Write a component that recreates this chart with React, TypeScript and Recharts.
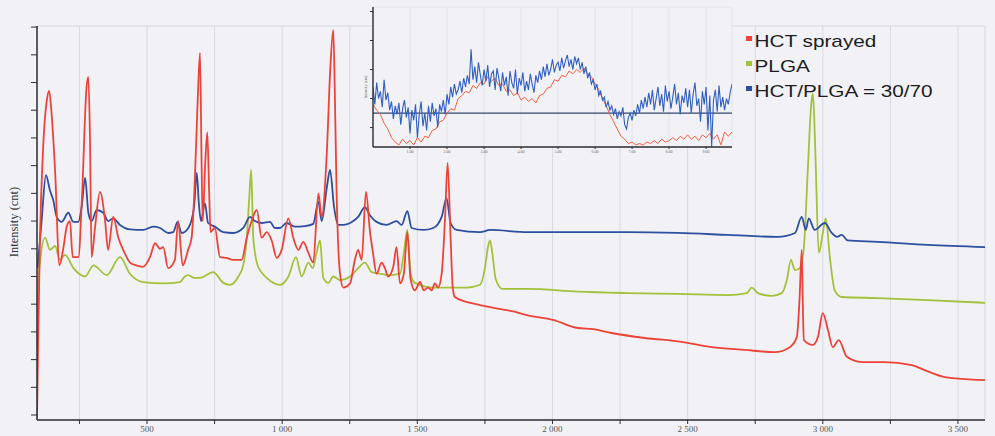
import React from 'react';
import { LineChart, Line, XAxis, YAxis, CartesianGrid, Legend, ReferenceLine } from 'recharts';

const BG = '#f2f2f6';
const GRID = '#cfd2de';
const FRAME = '#2e2e33';

const COLORS = {
  hct: '#ec4338', // red
  plga: '#a3c13b', // yellow-green
  mix: '#2d4f9f', // blue
};

// --- main spectra: [wavenumber, intensity] ---
const hctSprayed: [number, number][] = [
  [93, -0.1], [97, 2.5], [104, 6.4], [115, 9.5], [130, 11.4], [138, 11.7], [146, 11.0], [160, 8.8],
  [176, 5.4], [190, 6.0], [203, 6.8], [215, 7.0], [225, 5.7], [246, 5.7], [260, 8.0], [276, 11.8],
  [283, 12.2], [289, 10.0], [295, 5.7], [308, 6.8], [326, 8.05], [345, 7.0], [356, 5.96], [375, 7.15],
  [394, 6.4], [415, 5.9], [437, 5.5], [460, 5.4], [485, 5.35], [511, 5.7], [530, 6.2], [548, 6.0],
  [560, 6.06], [578, 5.3], [603, 5.6], [615, 7.0], [632, 5.4], [652, 5.96], [665, 6.4], [675, 8.0],
  [688, 11.5], [696, 13.07], [702, 9.0], [706, 7.0], [715, 9.0], [723, 10.2], [730, 8.0], [735, 6.6],
  [751, 6.75], [770, 5.7], [794, 5.67], [819, 5.6], [850, 5.6], [869, 6.4], [887, 7.0], [906, 7.4],
  [924, 6.4], [943, 6.6], [961, 6.3], [980, 5.67], [998, 5.96], [1023, 7.1], [1041, 6.4], [1060, 5.96],
  [1078, 6.25], [1097, 5.85], [1115, 5.5], [1134, 8.0], [1146, 7.15], [1165, 9.45], [1178, 12.5],
  [1189, 13.9], [1195, 11.5], [1201, 8.2], [1214, 5.1], [1226, 4.6], [1251, 4.75], [1269, 5.6],
  [1281, 5.96], [1294, 5.6], [1310, 8.05], [1325, 6.6], [1336, 5.85], [1349, 5.1], [1368, 5.5],
  [1380, 5.3], [1392, 5.0], [1411, 5.35], [1423, 6.06], [1436, 4.75], [1450, 5.1], [1463, 6.6],
  [1475, 4.9], [1491, 4.5], [1510, 4.8], [1524, 4.5], [1540, 4.6], [1553, 4.5], [1565, 4.75],
  [1577, 4.6], [1590, 5.1], [1602, 7.0], [1612, 9.1], [1623, 6.4], [1631, 4.6], [1639, 4.26],
  [1682, 4.08], [1732, 3.97], [1787, 3.86], [1850, 3.75], [1909, 3.6], [2002, 3.43], [2094, 3.14],
  [2150, 3.1], [2219, 2.96], [2342, 2.78], [2478, 2.64], [2589, 2.45], [2711, 2.35], [2822, 2.27],
  [2878, 2.45], [2904, 2.82], [2914, 4.2], [2922, 5.96], [2926, 4.0], [2930, 2.7], [2963, 2.53],
  [2982, 2.82], [3000, 3.68], [3019, 3.07], [3037, 2.45], [3059, 2.7], [3089, 2.1], [3144, 1.91],
  [3229, 1.91], [3329, 1.8], [3377, 1.62], [3451, 1.37], [3600, 1.26],
];

const plga: [number, number][] = [
  [93, 2.0], [96, 4.5], [105, 5.6], [123, 6.4], [141, 5.96], [160, 6.1], [178, 5.6], [197, 5.78],
  [228, 5.3], [271, 5.0], [302, 5.4], [351, 5.05], [400, 5.7], [437, 5.1], [486, 4.8], [560, 4.75],
  [622, 4.8], [640, 5.0], [653, 5.05], [675, 4.95], [696, 4.95], [745, 5.16], [782, 4.77], [807, 4.7],
  [838, 5.0], [856, 5.4], [869, 6.4], [878, 7.8], [885, 8.85], [889, 7.8], [893, 6.4], [911, 5.35],
  [943, 4.95], [992, 4.7], [1023, 5.0], [1051, 5.7], [1072, 5.0], [1097, 5.5], [1113, 5.3],
  [1127, 5.85], [1140, 6.3], [1152, 4.95], [1171, 4.77], [1189, 5.0], [1214, 4.87], [1251, 5.0],
  [1281, 5.3], [1306, 5.5], [1331, 5.16], [1362, 5.1], [1399, 5.05], [1436, 5.1], [1450, 5.85],
  [1463, 6.68], [1475, 5.1], [1491, 4.77], [1559, 4.6], [1682, 4.6], [1732, 4.7], [1750, 5.3],
  [1762, 6.1], [1769, 6.3], [1778, 5.8], [1790, 4.9], [1815, 4.55], [1909, 4.55], [2094, 4.45],
  [2279, 4.4], [2464, 4.37], [2649, 4.33], [2719, 4.4], [2737, 4.6], [2760, 4.4], [2811, 4.3],
  [2848, 4.4], [2867, 4.87], [2882, 5.6], [2897, 5.23], [2915, 5.3], [2930, 6.06], [2945, 8.95],
  [2957, 11.2], [2963, 11.6], [2968, 10.8], [2974, 8.95], [2985, 5.85], [3000, 6.57], [3011, 7.1],
  [3026, 5.7], [3044, 4.5], [3070, 4.26], [3203, 4.22], [3388, 4.15], [3600, 4.05],
];

const hctPlga: [number, number][] = [
  [95, 5.3], [110, 7.0], [126, 8.66], [141, 8.1], [153, 7.76], [166, 7.15], [184, 6.97], [209, 7.3],
  [227, 6.97], [246, 6.97], [258, 7.5], [271, 8.56], [283, 7.3], [295, 7.0], [314, 7.4], [338, 7.3],
  [357, 7.0], [375, 7.1], [400, 6.86], [437, 6.7], [486, 6.68], [523, 6.8], [548, 6.75], [579, 6.57],
  [597, 6.6], [613, 6.97], [628, 6.57], [653, 6.75], [674, 7.5], [684, 8.74], [692, 7.6], [700, 7.0],
  [714, 7.65], [726, 6.93], [751, 6.8], [782, 6.6], [819, 6.57], [856, 6.75], [881, 7.15], [899, 7.0],
  [924, 6.93], [955, 6.97], [973, 6.75], [992, 6.75], [1016, 6.93], [1047, 6.8], [1084, 6.82],
  [1115, 6.9], [1134, 7.7], [1146, 7.0], [1165, 8.2], [1177, 8.85], [1192, 7.5], [1207, 6.86],
  [1226, 6.86], [1263, 7.0], [1281, 7.15], [1306, 7.5], [1325, 7.2], [1349, 6.97], [1386, 6.86],
  [1423, 7.0], [1442, 6.86], [1463, 7.36], [1479, 6.75], [1522, 6.68], [1559, 6.75], [1590, 7.15],
  [1608, 7.83], [1623, 6.93], [1645, 6.68], [1732, 6.6], [1769, 6.68], [1909, 6.6], [2094, 6.6],
  [2279, 6.6], [2464, 6.57], [2649, 6.5], [2833, 6.43], [2897, 6.57], [2922, 7.15], [2937, 6.68],
  [2948, 7.1], [2970, 6.68], [3007, 6.93], [3033, 6.57], [3052, 6.43], [3070, 6.5], [3092, 6.3],
  [3203, 6.25], [3388, 6.14], [3600, 6.06],
];

const xTicks = [250, 500, 750, 1000, 1250, 1500, 1750, 2000, 2250, 2500, 2750, 3000, 3250, 3500];
const yTicks = Array.from({ length: 29 }, (_, i) => i * 0.5);
const yGridTicks = Array.from({ length: 15 }, (_, i) => i);

const legendNames = ['HCT sprayed', 'PLGA', 'HCT/PLGA = 30/70'];
const legendColors = [COLORS.hct, COLORS.plga, COLORS.mix];

// --- inset (zoomed noisy region) ---
// red sampled every 1 unit, blue every 0.5 unit along the inset axis
const insetRed = [
  2.6, 2.2, 1.9, 1.3, 0.9, 0.3, 0.0, -0.2, 0.2, -0.1, 0.1, -0.2, 0.3, 0.0, 0.4, 0.3, 0.8, 0.9, 1.4, 1.5,
  2.0, 2.3, 2.2, 3.0, 3.2, 3.5, 3.4, 3.9, 3.7, 4.1, 4.0, 4.5, 4.2, 4.4, 3.9, 4.0, 3.5, 3.6, 3.2, 3.4,
  2.9, 3.1, 2.8, 3.0, 2.7, 3.2, 3.3, 3.7, 3.8, 4.3, 4.2, 4.6, 4.5, 4.9, 4.7, 5.0, 4.8, 5.1, 4.7, 4.5,
  4.0, 3.6, 3.0, 2.5, 1.9, 1.4, 0.9, 0.4, 0.2, -0.1, 0.0, -0.2, -0.1, -0.2, 0.0, -0.1, 0.1, -0.1, 0.2, 0.0,
  0.1, 0.3, 0.1, 0.4, 0.2, 0.5, 0.2, 0.4, 0.1, 0.5, 0.3, 0.6, 0.2, 0.5, -0.2, 0.7, 0.4, 0.7,
];
const insetBlue = [
  3.8, 2.6, 4.1, 3.0, 3.5, 2.4, 4.3, 2.9, 3.4, 2.2,
  2.8, 1.6, 2.5, 1.9, 2.7, 1.2, 2.3, 2.9, 1.7, 2.4,
  0.6, 2.2, 1.5, 2.6, 0.3, 1.9, 2.8, 1.1, 2.0, 0.8,
  2.5, 1.4, 2.7, 1.8, 2.3, 1.0, 2.6, 2.1, 2.9, 1.9,
  3.3, 2.6, 3.8, 3.1, 4.0, 3.3, 3.6, 4.2, 3.4, 4.4,
  3.8, 4.6, 4.0, 6.4, 4.3, 5.2, 4.1, 5.5, 4.6, 3.9,
  5.0, 4.2, 5.3, 3.8, 4.7, 4.9, 3.6, 5.1, 4.4, 3.5,
  4.8, 3.9, 4.5, 3.2, 4.9, 4.1, 3.7, 5.0, 3.3, 4.4,
  3.9, 4.8, 3.5, 4.2, 3.6, 4.7, 4.0, 3.4, 4.6, 4.1,
  4.9, 4.3, 5.2, 4.5, 5.4, 4.6, 5.0, 5.7, 4.8, 5.3,
  5.5, 4.9, 5.8, 5.1, 5.6, 6.0, 5.2, 5.7, 5.0, 5.9,
  5.4, 5.8, 5.0, 5.5, 4.7, 5.2, 4.4, 4.8, 4.0, 4.3,
  3.6, 4.0, 3.2, 3.5, 2.9, 3.1, 2.4, 2.8, 2.2, 2.5,
  1.9, 2.3, 1.6, 2.1, 1.8, 2.4, 1.2, 0.9, 1.7, 2.0,
  1.5, 2.2, 1.8, 2.6, 2.0, 2.9, 2.3, 3.1, 2.4, 3.4,
  2.6, 3.6, 2.2, 3.0, 3.8, 2.5, 3.3, 2.1, 3.9, 2.8,
  3.5, 2.3, 3.1, 4.0, 2.6, 3.4, 1.9, 3.2, 2.7, 3.7,
  2.4, 3.6, 2.0, 3.3, 4.1, 2.5, 3.0, 1.4, 3.5, 2.6,
  3.8, 0.8, 3.2, -0.3, 2.9, 3.6, 2.1, 3.9, 2.4, 3.1,
  2.2, 3.0, 2.6, 3.4, 4.0,
];
const insetXTicks = [10, 20, 30, 40, 50, 60, 70, 80, 90];
const insetYTicks = Array.from({ length: 19 }, (_, i) => i * 0.5);
const insetGridTicks = Array.from({ length: 10 }, (_, i) => i);

const toPoints = (pairs: [number, number][]) => pairs.map(([w, v]) => ({ w, v }));
const hctData = toPoints(hctSprayed);
const plgaData = toPoints(plga);
const mixData = toPoints(hctPlga);
const insetRedData = insetRed.map((v, i) => ({ u: i, v }));
const insetBlueData = insetBlue.map((v, i) => ({ u: i * 0.5, v }));

const fmtWave = (v: number) => {
  if (v % 500 !== 0) return '';
  if (v < 1000) return String(v);
  return `${Math.floor(v / 1000)} ${String(v % 1000).padStart(3, '0')}`;
};

const EmptyTick = () => <g />;

const renderLegend = () => (
  <div
    style={{
      fontFamily: '"Liberation Sans", Arial, sans-serif',
      fontSize: 17,
      lineHeight: '25px',
      color: '#1c1c22',
      transform: 'scaleX(1.22)',
      transformOrigin: 'left top',
      whiteSpace: 'nowrap',
    }}
  >
    {legendNames.map((name, i) => (
      <div key={name} style={{ display: 'flex', alignItems: 'center' }}>
        <span style={{ width: 5, height: 5, background: legendColors[i], marginRight: 2, marginTop: -6 }} />
        {name}
      </div>
    ))}
  </div>
);

const MainChart = () => (
  <LineChart width={995} height={436} margin={{ top: 26, right: 10, bottom: 0, left: 0 }}>
    <CartesianGrid stroke={GRID} strokeWidth={0.8} yAxisId="frame" />
    <XAxis
      type="number"
      dataKey="w"
      domain={[93, 3600]}
      allowDataOverflow
      ticks={xTicks}
      tickFormatter={fmtWave}
      height={16}
      tickSize={4}
      tickMargin={2}
      tick={{ fontSize: 9, fill: '#555', fontFamily: '"Liberation Serif", serif' }}
      axisLine={{ stroke: FRAME, strokeWidth: 1.5 }}
      tickLine={{ stroke: FRAME }}
    />
    <XAxis
      xAxisId="top"
      orientation="top"
      type="number"
      domain={[93, 3600]}
      height={0}
      tick={false}
      tickLine={false}
      axisLine={{ stroke: FRAME, strokeWidth: 1.5 }}
    />
    <YAxis
      type="number"
      domain={[-0.18, 14.04]}
      allowDataOverflow
      ticks={yTicks}
      width={37}
      tickSize={6}
      tick={EmptyTick}
      axisLine={{ stroke: FRAME, strokeWidth: 1.5 }}
      tickLine={{ stroke: FRAME }}
      label={{
        content: () => (
          <text
            x={15}
            y={222}
            transform="rotate(-90 15 222)"
            textAnchor="middle"
            dominantBaseline="middle"
            fontSize={12.5}
            fontFamily='"Liberation Serif", serif'
            fill="#333"
          >
            Intensity (cnt)
          </text>
        ),
      }}
    />
    <YAxis
      yAxisId="frame"
      orientation="right"
      type="number"
      domain={[-0.18, 14.04]}
      ticks={yGridTicks}
      width={0}
      tick={false}
      tickLine={false}
      axisLine={{ stroke: FRAME, strokeWidth: 1.2 }}
    />
    <Legend
      layout="horizontal"
      verticalAlign="middle"
      content={renderLegend}
      wrapperStyle={{ left: 746, top: 29, width: 240, height: 80 }}
    />
    <Line data={plgaData} dataKey="v" name="PLGA" type="monotone" stroke={COLORS.plga} strokeWidth={1.8} dot={false} isAnimationActive={false} />
    <Line data={mixData} dataKey="v" name="HCT/PLGA = 30/70" type="monotone" stroke={COLORS.mix} strokeWidth={1.8} dot={false} isAnimationActive={false} />
    <Line data={hctData} dataKey="v" name="HCT sprayed" type="monotone" stroke={COLORS.hct} strokeWidth={1.8} dot={false} isAnimationActive={false} />
  </LineChart>
);

const InsetChart = () => (
  <LineChart width={372} height={158} margin={{ top: 7, right: 2, bottom: 0, left: 0 }}>
    <CartesianGrid stroke="#d6d9e3" strokeWidth={0.6} yAxisId="frame" />
    <XAxis
      type="number"
      dataKey="u"
      domain={[0, 97]}
      allowDataOverflow
      ticks={insetXTicks}
      tickFormatter={(u: number) => (u / 10).toFixed(2)}
      height={11}
      tickSize={2}
      tickMargin={1}
      tick={{ fontSize: 4, fill: '#666' }}
      axisLine={{ stroke: FRAME, strokeWidth: 1.4 }}
      tickLine={{ stroke: FRAME }}
    />
    <XAxis
      xAxisId="top"
      orientation="top"
      type="number"
      domain={[0, 97]}
      height={0}
      tick={false}
      tickLine={false}
      axisLine={{ stroke: FRAME, strokeWidth: 1.4 }}
    />
    <YAxis
      type="number"
      domain={[-0.34, 9.31]}
      allowDataOverflow
      ticks={insetYTicks}
      width={11}
      tickSize={3}
      tick={EmptyTick}
      axisLine={{ stroke: FRAME, strokeWidth: 1.4 }}
      tickLine={{ stroke: FRAME }}
      label={{
        content: () => (
          <text x={5} y={87} transform="rotate(-90 5 87)" textAnchor="middle" fontSize={4} fill="#555">
            Intensity (cnt)
          </text>
        ),
      }}
    />
    <YAxis
      yAxisId="frame"
      orientation="right"
      type="number"
      domain={[-0.34, 9.31]}
      ticks={insetGridTicks}
      width={0}
      tick={false}
      tickLine={false}
      axisLine={{ stroke: FRAME, strokeWidth: 1.4 }}
    />
    <ReferenceLine y={2} stroke="#34466a" strokeWidth={1.2} />
    <Line data={insetRedData} dataKey="v" stroke="#f2603f" strokeWidth={1} dot={false} isAnimationActive={false} />
    <Line data={insetBlueData} dataKey="v" stroke="#2f5fbf" strokeWidth={1.1} dot={false} isAnimationActive={false} />
  </LineChart>
);

export default function App() {
  return (
    <div style={{ position: 'absolute', left: 0, top: 0, width: 995, height: 436, background: BG, overflow: 'hidden' }}>
      <div style={{ position: 'absolute', left: 0, top: 0 }}>
        <MainChart />
      </div>
      <div style={{ position: 'absolute', left: 373, top: 7, width: 359, height: 140, background: BG }} />
      <div style={{ position: 'absolute', left: 362, top: 0 }}>
        <InsetChart />
      </div>
    </div>
  );
}
